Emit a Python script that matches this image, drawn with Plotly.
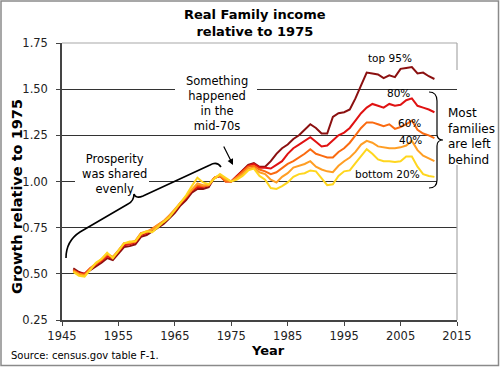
import plotly.graph_objects as go

years = list(range(1947, 2012))

top95 = [0.53, 0.51, 0.50, 0.52, 0.54, 0.56, 0.585, 0.575, 0.61, 0.645,
         0.65, 0.66, 0.70, 0.71, 0.73, 0.75, 0.77, 0.80, 0.83, 0.87,
         0.90, 0.94, 0.96, 0.96, 0.97, 1.02, 1.03, 1.01, 1.00, 1.03,
         1.06, 1.09, 1.10, 1.08, 1.08, 1.11, 1.15, 1.18, 1.20, 1.23,
         1.25, 1.28, 1.31, 1.29, 1.26, 1.26, 1.35, 1.37, 1.375, 1.39,
         1.45, 1.52, 1.59, 1.585, 1.58, 1.56, 1.575, 1.565, 1.61, 1.615,
         1.62, 1.585, 1.59, 1.57, 1.555]

p80 = [0.52, 0.505, 0.50, 0.53, 0.55, 0.57, 0.595, 0.585, 0.62, 0.655,
       0.66, 0.67, 0.71, 0.72, 0.74, 0.76, 0.78, 0.81, 0.84, 0.88,
       0.91, 0.95, 0.97, 0.97, 0.98, 1.02, 1.03, 1.00, 1.00, 1.03,
       1.06, 1.085, 1.095, 1.075, 1.075, 1.07, 1.09, 1.11, 1.15, 1.18,
       1.20, 1.22, 1.24, 1.215, 1.19, 1.195, 1.22, 1.25, 1.265, 1.29,
       1.33, 1.37, 1.40, 1.42, 1.41, 1.40, 1.42, 1.41, 1.415, 1.44,
       1.45, 1.41, 1.40, 1.39, 1.375]

p60 = [0.52, 0.50, 0.495, 0.53, 0.555, 0.575, 0.605, 0.59, 0.625, 0.665,
       0.665, 0.675, 0.72, 0.725, 0.745, 0.765, 0.785, 0.815, 0.845, 0.885,
       0.915, 0.955, 0.98, 0.975, 0.98, 1.02, 1.03, 1.00, 1.00, 1.025,
       1.05, 1.08, 1.085, 1.065, 1.055, 1.04, 1.05, 1.075, 1.095, 1.11,
       1.13, 1.15, 1.175, 1.15, 1.14, 1.13, 1.13, 1.16, 1.18, 1.21,
       1.25, 1.29, 1.32, 1.32, 1.31, 1.30, 1.31, 1.285, 1.295, 1.31,
       1.33, 1.28, 1.26, 1.25, 1.235]

p40 = [0.515, 0.50, 0.49, 0.525, 0.555, 0.58, 0.61, 0.59, 0.63, 0.665,
       0.67, 0.68, 0.72, 0.73, 0.74, 0.765, 0.785, 0.815, 0.85, 0.89,
       0.92, 0.96, 0.99, 0.98, 0.98, 1.02, 1.035, 1.01, 1.00, 1.02,
       1.04, 1.07, 1.075, 1.05, 1.04, 1.01, 0.995, 1.025, 1.045, 1.075,
       1.085, 1.095, 1.11, 1.08, 1.065, 1.055, 1.05, 1.085, 1.11, 1.13,
       1.16, 1.20, 1.22, 1.21, 1.19, 1.185, 1.18, 1.18, 1.185, 1.195,
       1.22, 1.17, 1.14, 1.125, 1.11]

p20 = [0.51, 0.49, 0.485, 0.52, 0.56, 0.58, 0.615, 0.585, 0.625, 0.665,
       0.675, 0.675, 0.715, 0.73, 0.725, 0.755, 0.78, 0.805, 0.845, 0.89,
       0.925, 0.975, 1.02, 0.995, 0.985, 1.015, 1.04, 1.02, 1.00, 1.01,
       1.03, 1.06, 1.07, 1.03, 1.01, 0.965, 0.96, 0.975, 0.995, 1.025,
       1.04, 1.045, 1.06, 1.055, 1.02, 0.98, 0.985, 1.03, 1.055, 1.06,
       1.10, 1.14, 1.175, 1.15, 1.12, 1.11, 1.11, 1.105, 1.11, 1.135,
       1.135, 1.08, 1.04, 1.03, 1.025]

series_names = ["top 95%", "80%", "60%", "40%", "bottom 20%"]
series_values = [top95, p80, p60, p40, p20]
series_colors = ["#8B1010", "#E01212", "#FA6A10", "#FF9E24", "#FFD61E"]

x_ticks = [1945, 1955, 1965, 1975, 1985, 1995, 2005, 2015]
y_ticks = [0.25, 0.50, 0.75, 1.00, 1.25, 1.50, 1.75]

W, H = 500, 367
L, R, T, B = 62, 43, 43, 47
X0, X1 = 1945, 2015
Y0, Y1 = 0.25, 1.75
PW, PH = W - L - R, H - T - B

FONT = "DejaVu Sans, Verdana, sans-serif"


def dx(px):
    return X0 + (px - L) * (X1 - X0) / PW


def dy(py):
    return Y0 + (H - B - py) * (Y1 - Y0) / PH


def paper_x(px):
    return (px - L) / PW


def paper_y(py):
    return (H - B - py) / PH


def path_from_px(cmds):
    out = []
    for c in cmds:
        op = c[0]
        pts = c[1:]
        coords = []
        for i in range(0, len(pts), 2):
            coords.append(f"{dx(pts[i]):.4f},{dy(pts[i+1]):.5f}")
        out.append(op + " " + " ".join(coords))
    return " ".join(out)


fig = go.Figure()
for name, vals, col in zip(series_names, series_values, series_colors):
    fig.add_trace(go.Scatter(x=years, y=vals, mode="lines", name=name,
                             line=dict(color=col, width=2), hoverinfo="skip"))

shapes = []
# gridline gaps (behind traces, above gridlines)
for (xa, xb, ya, yb) in [(175, 257, 86, 92), (75, 149, 178, 184), (437, 458, 130, 186)]:
    shapes.append(dict(type="rect", xref="x", yref="y", x0=dx(xa), x1=dx(xb),
                       y0=dy(yb), y1=dy(ya), fillcolor="white", line=dict(width=0),
                       layer="between"))
# plot frame top and right (light gray)
shapes.append(dict(type="line", xref="paper", yref="paper", x0=0, x1=1, y0=1, y1=1,
                   line=dict(color="#A8A8A8", width=1.2)))
shapes.append(dict(type="line", xref="paper", yref="paper", x0=1, x1=1,
                   y0=paper_y(165), y1=0, line=dict(color="#A8A8A8", width=1.2)))
shapes.append(dict(type="line", xref="paper", yref="paper", x0=1, x1=1,
                   y0=1, y1=paper_y(70), line=dict(color="#A8A8A8", width=1.2)))
# outer border of the picture
shapes.append(dict(type="rect", xref="paper", yref="paper",
                   x0=paper_x(1), x1=paper_x(498.5), y0=paper_y(365.5), y1=paper_y(1),
                   line=dict(color="#8A8A8A", width=1.5), fillcolor="rgba(0,0,0,0)"))

# curly brace 1 (Prosperity)
brace1 = path_from_px([
    ("M", 66, 258),
    ("Q", 66, 241, 80, 232),
    ("L", 128, 204),
    ("Q", 134, 201, 134, 194),
    ("Q", 136, 199, 143, 196),
    ("L", 210, 165),
    ("Q", 217, 161, 221, 167),
])
shapes.append(dict(type="path", xref="x", yref="y", path=brace1,
                   line=dict(color="black", width=1.6)))

# curly brace 2 (Most families)
brace2 = path_from_px([
    ("M", 429, 92),
    ("Q", 437, 92, 437, 101),
    ("L", 437, 134),
    ("Q", 437, 140, 443, 140),
    ("Q", 437, 140, 437, 146),
    ("L", 437, 180),
    ("Q", 437, 188, 429, 188),
])
shapes.append(dict(type="path", xref="x", yref="y", path=brace2,
                   line=dict(color="black", width=1.2)))

annotations = []


def add_text(text, px, py, size, bold=False, xanchor="center", align="center"):
    annotations.append(dict(
        text=f"<b>{text}</b>" if bold else text,
        xref="paper", yref="paper", x=paper_x(px), y=paper_y(py),
        xanchor=xanchor, yanchor="middle", align=align, showarrow=False,
        borderpad=0,
        font=dict(family=FONT, size=size, color="black")))


add_text("Real Family income<br>relative to 1975", 255, 23, 13, bold=True)
add_text("Year", 268, 350, 13, bold=True)
add_text("Source: census.gov table F-1.", 10, 355, 10, xanchor="left", align="left")
annotations.append(dict(text="<b>Growth relative to 1975</b>", xref="paper", yref="paper",
                        x=paper_x(17), y=paper_y(197), textangle=-90, showarrow=False,
                        xanchor="center", yanchor="middle",
                        font=dict(family=FONT, size=14.5, color="black")))

add_text("Something<br>happened<br>in the<br>mid-70s", 217, 103, 11.5)
add_text("Prosperity<br>was shared<br>evenly", 114, 173.5, 11.5)
add_text("Most<br>families<br>are left<br>behind", 447, 136, 12, xanchor="left", align="left")

add_text("top 95%", 390, 58, 10.5)
add_text("80%", 398, 93, 10.5)
add_text("60%", 409, 123, 10.5)
add_text("40%", 410, 140, 10.5)
add_text("bottom 20%", 387, 174, 10.5)

# arrow to mid-70s
annotations.append(dict(text="", xref="x", yref="y", axref="x", ayref="y",
                        x=dx(233), y=dy(165), ax=dx(223), ay=dy(145),
                        showarrow=True, arrowhead=2, arrowsize=1, arrowwidth=1.2,
                        arrowcolor="black"))

fig.update_layout(
    width=W, height=H, autosize=False,
    margin=dict(l=L, r=R, t=T, b=B, pad=0),
    paper_bgcolor="white", plot_bgcolor="white",
    showlegend=False,
    shapes=shapes, annotations=annotations,
    font=dict(family=FONT, size=11.5, color="#222"),
)
fig.update_xaxes(range=[X0, X1], tickvals=x_ticks, ticktext=[str(v) for v in x_ticks],
                 showgrid=False, zeroline=False, showline=True, linecolor="#444",
                 linewidth=1.5, ticks="outside", ticklen=4, tickcolor="#444",
                 tickfont=dict(family=FONT, size=11.5, color="#222"), automargin=False)
fig.update_yaxes(range=[Y0, Y1], tickvals=y_ticks, ticktext=[f"{v:.2f}" for v in y_ticks],
                 showgrid=True, gridcolor="#333", gridwidth=1, zeroline=False,
                 showline=True, linecolor="#444", linewidth=1.5, ticks="outside",
                 ticklen=4, tickcolor="#444", ticklabelstandoff=6,
                 tickfont=dict(family=FONT, size=11.5, color="#222"), automargin=False)

fig.write_html("out.html", config={"displayModeBar": False},
               post_script="document.body.style.margin='0';document.body.style.overflow='hidden';")
